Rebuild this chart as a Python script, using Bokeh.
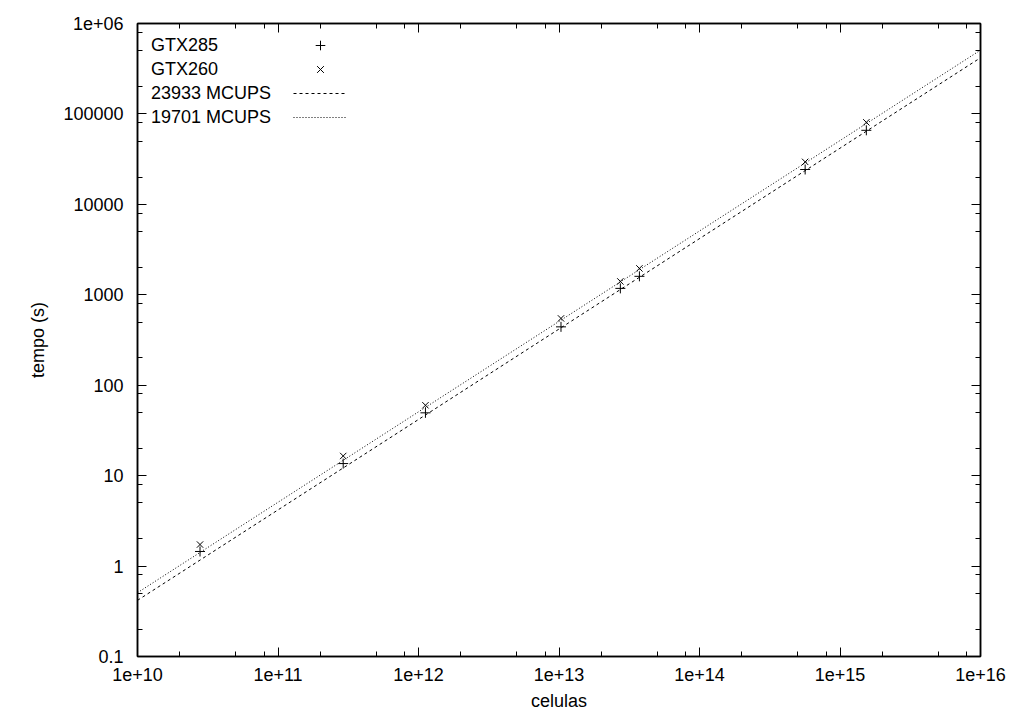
from bokeh.plotting import figure
from bokeh.models import LogAxis, FixedTicker, Legend, LegendItem, Range1d, ColumnDataSource
from bokeh.embed import file_html
from bokeh.resources import INLINE

# ---- data ----
cells = [2.786e10, 2.911e11, 1.1206e12, 1.0331e13, 2.733e13, 3.735e13, 5.648e14, 1.5397e15]
gtx285 = [1.45, 13.6, 49.5, 442, 1177, 1600, 24300, 65900]
gtx260 = [1.73, 16.5, 60, 548, 1406, 1958, 29500, 80700]
mcups_285 = 23933
mcups_260 = 19701
fit_cells = [1e10, 1e16]
fit_285 = [c / (mcups_285 * 1e6) for c in fit_cells]
fit_260 = [c / (mcups_260 * 1e6) for c in fit_cells]

x_ticks = [1e10, 1e11, 1e12, 1e13, 1e14, 1e15, 1e16]
x_tick_labels = ["1e+10", "1e+11", "1e+12", "1e+13", "1e+14", "1e+15", "1e+16"]
y_ticks = [0.1, 1, 10, 100, 1000, 10000, 100000, 1e6]
y_tick_labels = ["0.1", "1", "10", "100", "1000", "10000", "100000", "1e+06"]
minor_mult = [2, 5, 8]
legend_labels = ["GTX285", "GTX260", "23933 MCUPS", "19701 MCUPS"]
x_label = "celulas"
y_label = "tempo (s)"

FONT = "Liberation Sans"
FS = "18px"

x_minor = [m * t for t in x_ticks[:-1] for m in minor_mult]
y_minor = [m * t for t in y_ticks[:-1] for m in minor_mult]

p = figure(width=1014, height=715, x_axis_type="log", y_axis_type="log",
           x_range=Range1d(1e10, 1e16), y_range=Range1d(0.1, 1e6),
           output_backend="svg", toolbar_location=None,
           min_border_left=137, min_border_right=34, min_border_top=23, min_border_bottom=59)
p.xgrid.visible = False
p.ygrid.visible = False
p.outline_line_color = "black"
p.outline_line_width = 1.5
p.background_fill_color = "white"
p.border_fill_color = "white"

def style_axis(ax, ticks, minor, labels=None, show_labels=True):
    ax.ticker = FixedTicker(ticks=ticks, minor_ticks=minor)
    ax.major_tick_in = 9
    ax.major_tick_out = 0
    ax.minor_tick_in = 5
    ax.minor_tick_out = 0
    ax.major_tick_line_color = "black"
    ax.minor_tick_line_color = "black"
    ax.axis_line_color = "black"
    ax.axis_line_width = 1.5
    ax.major_tick_line_width = 1
    ax.minor_tick_line_width = 1
    if show_labels:
        ax.major_label_overrides = {t: l for t, l in zip(ticks, labels)}
        ax.major_label_text_font = FONT
        ax.major_label_text_font_size = FS
        ax.major_label_text_color = "black"
        ax.axis_label_text_font = FONT
        ax.axis_label_text_font_size = FS
        ax.axis_label_text_font_style = "normal"
        ax.axis_label_text_color = "black"
    else:
        ax.major_label_text_font_size = "2px"
        ax.major_label_text_color = None
        ax.major_label_standoff = 0

xa = p.xaxis[0]
ya = p.yaxis[0]
style_axis(xa, x_ticks, x_minor, x_tick_labels)
style_axis(ya, y_ticks, y_minor, y_tick_labels)
xa.axis_label = x_label
ya.axis_label = y_label
xa.major_label_standoff = 11
xa.axis_label_standoff = 7
ya.major_label_standoff = 14
ya.axis_label_standoff = 12

top = LogAxis()
style_axis(top, x_ticks, x_minor, show_labels=False)
p.add_layout(top, "above")
right = LogAxis()
style_axis(right, y_ticks, y_minor, show_labels=False)
p.add_layout(right, "right")

# ---- glyphs ----
src = ColumnDataSource(dict(cells=cells, gtx285=gtx285, gtx260=gtx260))
fit_src = ColumnDataSource(dict(x=fit_cells, y285=fit_285, y260=fit_260))

l285 = p.line("x", "y285", source=fit_src, line_color="black", line_width=1, line_dash="3 3")
l260 = p.line("x", "y260", source=fit_src, line_color="black", line_width=1, line_dash="1 2")
r285 = p.scatter("cells", "gtx285", source=src, marker="cross", size=10, line_color="black", line_width=1)
r260 = p.scatter("cells", "gtx260", source=src, marker="x", size=9, line_color="black", line_width=1)
dummy_src = ColumnDataSource(dict(x=[1e12], y=[1.0]))
dummy = p.scatter("x", "y", source=dummy_src, size=1, alpha=0, visible=False)

common = dict(padding=0, margin=0, border_line_color=None, background_fill_alpha=0,
              glyph_height=24, label_height=24, spacing=0,
              label_text_font=FONT, label_text_font_size=FS, label_text_color="black")

text_legend = Legend(items=[LegendItem(label=t, renderers=[dummy]) for t in legend_labels],
                     location=(13, 527), glyph_width=1, label_standoff=0, **common)
sample_legend = Legend(items=[LegendItem(label="", renderers=[r]) for r in (r285, r260, l285, l260)],
                       location=(156, 527), glyph_width=54, label_standoff=0, label_width=1, **common)
p.add_layout(text_legend, "center")
p.add_layout(sample_legend, "center")

open("out.html", "w").write(file_html(p, INLINE))
